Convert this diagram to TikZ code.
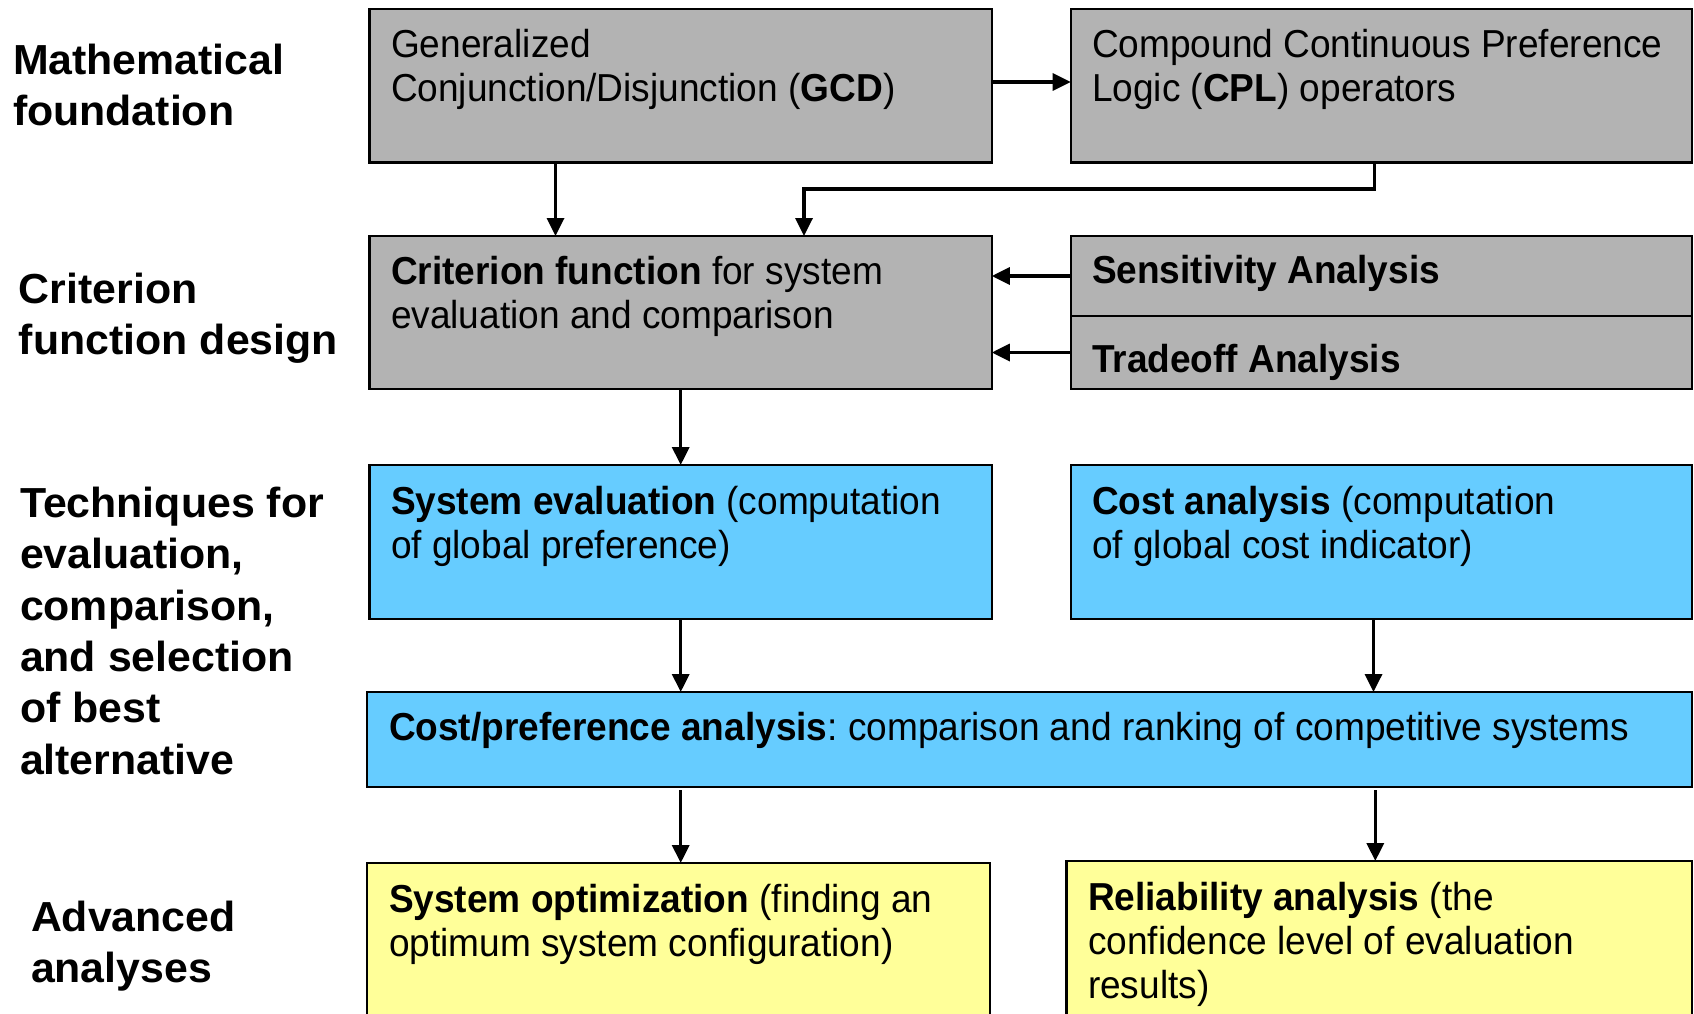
\documentclass[tikz,border=0pt]{standalone}
\usepackage{fontspec}
\setmainfont{Liberation Sans}
\newfontfamily\boxfont[FakeStretch=0.95]{Liberation Sans}
\newfontfamily\labfont[FakeStretch=1.02]{Liberation Sans}
\usetikzlibrary{arrows.meta}
\definecolor{boxgray}{RGB}{179,179,179}
\definecolor{boxblue}{RGB}{102,204,255}
\definecolor{boxyellow}{RGB}{255,255,153}
\frenchspacing
\tikzset{
  box/.style={draw=black, line width=2.2pt, anchor=north west, inner sep=0pt, outer sep=0pt},
  gbox/.style={box, fill=boxgray},
  bbox/.style={box, fill=boxblue},
  ybox/.style={box, fill=boxyellow},
  txt/.style={anchor=base west, inner sep=0pt, outer sep=0pt, align=left,
    font=\frenchspacing\boxfont\fontsize{39}{44}\selectfont},
  lab/.style={anchor=base west, inner sep=0pt, outer sep=0pt, align=left,
    font=\labfont\bfseries\fontsize{42}{51.3}\selectfont},
  conn/.style={line width=3.4pt, -{Triangle[length=18pt,width=17pt]}}
}
\begin{document}
\begin{tikzpicture}[x=1pt,y=-1pt]
\path[use as bounding box, clip] (0,0) rectangle (1694,1014);
\fill[white] (0,0) rectangle (1694,1014);

% boxes
\node[gbox, minimum width=622.3, minimum height=153.5] (gcd) at (369.5,9) {};
\node[gbox, minimum width=621.3, minimum height=153.5] (cpl) at (1070.7,9) {};
\node[gbox, minimum width=622.3, minimum height=153] (crit) at (369.5,236) {};
\node[gbox, minimum width=621.3, minimum height=80] (sens) at (1070.7,236) {};
\node[gbox, minimum width=621.3, minimum height=73] (trad) at (1070.7,316) {};
\node[bbox, minimum width=622.3, minimum height=154] (syseval) at (369.5,465) {};
\node[bbox, minimum width=621.3, minimum height=154] (cost) at (1070.7,465) {};
\node[bbox, minimum width=1324.7, minimum height=95] (costpref) at (367.3,692) {};
\node[ybox, minimum width=622.3, minimum height=170] (sysopt) at (367.3,863) {};
\node[ybox, minimum width=625.5, minimum height=170] (rel) at (1066.5,861) {};

% box texts (anchor = baseline of the last line)
\node[txt] (gcdt) at (391,101.5) {Generalized\\Conjunction/Disjunction (\textbf{GCD})};
\node[txt] (cplt) at (1092,101.5) {Compound Continuous Preference\\Logic (\textbf{CPL}) operators};
\node[txt] (critt) at (391,328) {\textbf{Criterion function} for system\\evaluation and comparison};
\node[txt] (senst) at (1092,283.5) {\textbf{Sensitivity Analysis}};
\node[txt] (tradt) at (1092,372) {\textbf{Tradeoff Analysis}};
\node[txt] (sysevalt) at (391,558) {\textbf{System evaluation} (computation\\of global preference)};
\node[txt] (costt) at (1092,558) {\textbf{Cost analysis} (computation\\of global cost indicator)};
\node[txt] (costpreft) at (389,740.5) {\textbf{Cost/preference analysis}: comparison and ranking of competitive systems};
\node[txt] (sysoptt) at (389,956) {\textbf{System optimization} (finding an\\optimum system configuration)};
\node[txt] (relt) at (1088,998) {\textbf{Reliability analysis} (the\\confidence level of evaluation\\results)};

% left labels (anchor = baseline of the last line)
\node[lab] (l1) at (13,125.8) {Mathematical\\foundation};
\node[lab] (l2) at (19,354.9) {Criterion\\function design};
\node[lab] (l3) at (20,774) {Techniques for\\evaluation,\\comparison,\\and selection\\of best\\alternative};
\node[lab] (l4) at (31,982.6) {Advanced\\analyses};

% helper coordinates
\coordinate (xa) at (555.5,0);
\coordinate (elb) at (804,189);
\coordinate (xc) at (1374.3,0);
\coordinate (ya) at (0,82);
\coordinate (xm) at (680.7,0);
\coordinate (xr) at (1373.5,0);
\coordinate (xr2) at (1375.3,0);

% connectors
\draw[conn] (gcd.east |- ya) -- (cpl.west |- ya);
\draw[conn] (gcd.south -| xa) -- (crit.north -| xa);
\draw[conn] (cpl.south -| xc) |- (elb) -- (crit.north -| elb);
\draw[conn] (sens.west) -- (sens.west -| crit.east);
\draw[conn] (trad.west) -- (trad.west -| crit.east);
\draw[conn] (crit.south -| xm) -- (syseval.north -| xm);
\draw[conn] (syseval.south -| xm) -- (costpref.north -| xm);
\draw[conn] (cost.south -| xr) -- (costpref.north -| xr);
\draw[conn] ([yshift=-3pt]costpref.south -| xm) -- (sysopt.north -| xm);
\draw[conn] ([yshift=-3pt]costpref.south -| xr2) -- (rel.north -| xr2);
\end{tikzpicture}
\end{document}
